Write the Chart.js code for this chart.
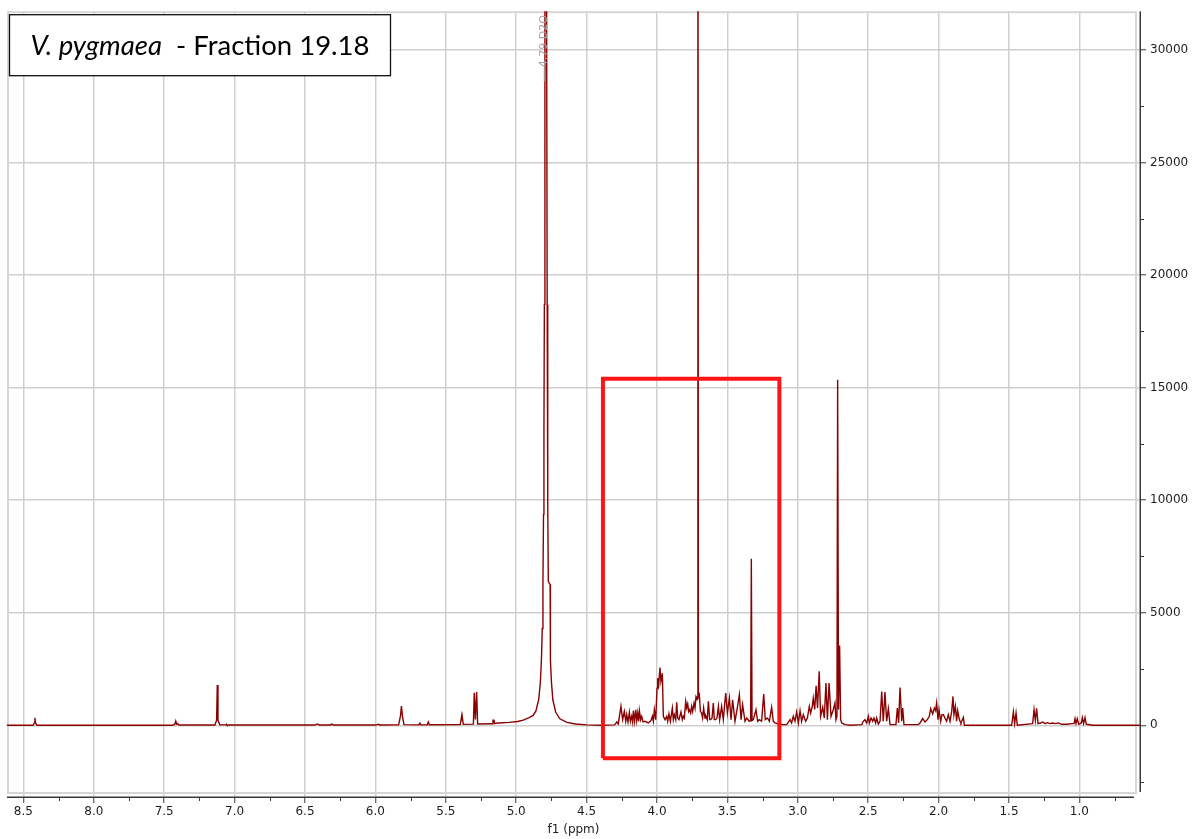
<!DOCTYPE html>
<html>
<head>
<meta charset="utf-8">
<script src="https://cdn.jsdelivr.net/npm/chart.js@4.4.1/dist/chart.umd.min.js"></script>
<style>
  html, body { margin: 0; padding: 0; background: #ffffff; }
  #spectrum { display: block; }
</style>
</head>
<body>
<canvas id="spectrum" width="1194" height="839"></canvas>
<script>
// 1H NMR spectrum, chemical shift (ppm) vs intensity, one array per region.
const aromaticRegion = [
  [8.617, 0], [8.430, 0], [8.422, 110], [8.418, 330], [8.414, 110], [8.405, 0],
  [7.440, 0], [7.425, 50], [7.418, 190], [7.412, 50], [7.404, 80], [7.397, 10],
  [7.140, 10], [7.128, 220], [7.123, 1790], [7.118, 220], [7.105, 20],
  [7.062, 20], [7.058, 50], [7.054, 15],
  [6.430, 10], [6.412, 60], [6.398, 15], [6.320, 15], [6.310, 50], [6.300, 15]
];

const olefinicRegion = [
  [6.000, 10], [5.977, 50], [5.970, 10],
  [5.835, 20], [5.822, 420], [5.815, 850], [5.808, 400], [5.797, 30],
  [5.692, 20], [5.684, 100], [5.677, 20], [5.632, 20], [5.624, 150], [5.617, 25],
  [5.397, 30], [5.388, 380], [5.386, 200], [5.383, 380], [5.376, 40],
  [5.304, 50], [5.298, 1450], [5.290, 260], [5.281, 1480], [5.274, 60],
  [5.170, 70], [5.165, 230], [5.158, 230], [5.153, 80],
  [5.126, 100], [5.050, 130], [4.990, 170]
];

const waterRegion = [
  [4.950, 230], [4.908, 340], [4.880, 440], [4.860, 640], [4.840, 1145],
  [4.828, 1950], [4.820, 3060], [4.815, 4300], [4.810, 6420], [4.806, 9370],
  [4.803, 13000], [4.800, 18700], [4.796, 31700], [4.793, 45000], [4.790, 52000],
  [4.787, 45000], [4.784, 31700], [4.780, 18700], [4.776, 9800], [4.772, 6400],
  [4.759, 6250], [4.757, 2900], [4.750, 1950], [4.740, 1145], [4.720, 590],
  [4.690, 290], [4.640, 130], [4.580, 60], [4.500, 20], [4.400, 5]
];

const carbohydrateRegion = [
  [4.300, 20], [4.286, 148], [4.275, 59], [4.256, 841], [4.244, 251], [4.232, 620],
  [4.222, 177], [4.215, 472], [4.206, 148], [4.196, 575], [4.189, 177], [4.180, 398],
  [4.173, 148], [4.168, 649], [4.159, 177], [4.151, 693], [4.144, 207], [4.137, 546],
  [4.130, 177], [4.125, 649], [4.116, 251], [4.109, 398], [4.099, 148], [4.085, 177],
  [4.062, 103], [4.043, 207], [4.033, 398], [4.026, 177], [4.019, 693], [4.009, 251],
  [4.000, 1652], [3.995, 2095], [3.988, 1800], [3.979, 2567], [3.972, 1947], [3.962, 2316],
  [3.955, 398], [3.943, 251], [3.931, 398], [3.924, 177], [3.915, 502], [3.905, 177],
  [3.891, 767], [3.884, 251], [3.877, 472], [3.867, 251], [3.860, 1018], [3.853, 325],
  [3.844, 251], [3.830, 590], [3.820, 251], [3.813, 398], [3.806, 325], [3.796, 1062],
  [3.789, 767], [3.782, 944], [3.775, 620], [3.770, 693], [3.761, 546], [3.754, 841],
  [3.747, 620], [3.737, 988], [3.730, 767], [3.723, 1283], [3.716, 1210], [3.713, 1250],
  [3.7095, 48000], [3.706, 1250], [3.699, 1357], [3.692, 620], [3.683, 546], [3.676, 325],
  [3.669, 767], [3.659, 325], [3.652, 398], [3.643, 251], [3.635, 1062], [3.626, 251],
  [3.619, 251], [3.609, 325], [3.600, 988], [3.593, 251], [3.583, 251], [3.574, 325],
  [3.564, 841], [3.555, 251], [3.541, 841], [3.529, 251], [3.512, 1431], [3.500, 546],
  [3.486, 1210], [3.474, 251], [3.463, 1136], [3.446, 177], [3.430, 767], [3.415, 1357],
  [3.403, 251], [3.392, 915], [3.375, 177], [3.363, 325], [3.344, 177], [3.335, 207],
  [3.330, 7400], [3.325, 207], [3.316, 251], [3.297, 693], [3.285, 177], [3.273, 251],
  [3.257, 177], [3.242, 1387], [3.231, 251], [3.216, 325], [3.202, 177], [3.186, 797],
  [3.174, 177], [3.162, 103], [3.138, 59]
];

const midfieldRegion = [
  [3.103, 30], [3.079, 30], [3.055, 251], [3.044, 103], [3.032, 398], [3.020, 177],
  [3.008, 590], [2.996, 103], [2.984, 649], [2.973, 177], [2.961, 472], [2.944, 177],
  [2.932, 325], [2.918, 841], [2.909, 546], [2.897, 841], [2.890, 1210], [2.880, 700],
  [2.870, 1750], [2.860, 767], [2.848, 2400], [2.838, 398], [2.823, 797], [2.812, 325],
  [2.800, 1873], [2.790, 251], [2.778, 1873], [2.764, 398], [2.748, 693], [2.736, 988],
  [2.729, 251], [2.722, 400], [2.717, 15350], [2.711, 700], [2.703, 3540], [2.696, 251],
  [2.688, 103], [2.665, 30], [2.629, 0]
];

const aliphaticRegion = [
  [2.546, 30], [2.535, 177], [2.523, 251], [2.511, 103], [2.499, 398], [2.492, 103],
  [2.480, 325], [2.468, 177], [2.459, 325], [2.447, 103], [2.440, 325], [2.428, 59],
  [2.416, 177], [2.404, 1505], [2.393, 177], [2.381, 1475], [2.369, 177], [2.357, 738],
  [2.345, 30], [2.303, 30], [2.293, 767], [2.284, 103], [2.274, 1682], [2.262, 177],
  [2.255, 767], [2.246, 30], [2.144, 30], [2.132, 103], [2.113, 295], [2.097, 148],
  [2.080, 251], [2.066, 398], [2.056, 738], [2.042, 502], [2.030, 767], [2.021, 649],
  [2.014, 988], [2.004, 251], [1.997, 693], [1.985, 177], [1.976, 472], [1.966, 472],
  [1.955, 325], [1.943, 177], [1.931, 472], [1.919, 177], [1.907, 620], [1.898, 1283],
  [1.891, 472], [1.881, 841], [1.872, 177], [1.865, 649], [1.855, 325], [1.848, 177],
  [1.841, 103], [1.824, 354], [1.817, 0], [1.801, 0]
];

const methylRegion = [
  [1.481, 0], [1.469, 590], [1.460, 74], [1.450, 546], [1.441, 0],
  [1.332, 74], [1.322, 693], [1.313, 221], [1.304, 752], [1.294, 74],
  [1.275, 103], [1.261, 148], [1.244, 74], [1.228, 118], [1.209, 74], [1.190, 103],
  [1.171, 74], [1.150, 103], [1.126, 44], [1.090, 44], [1.055, 74], [1.038, 74],
  [1.031, 295], [1.024, 74], [1.015, 295], [1.005, 44], [0.986, 103], [0.979, 339],
  [0.970, 74], [0.960, 339], [0.951, 44], [0.901, 0], [0.560, 0]
];

// Highlighted window (ppm range and intensity range)
const boxShiftPpm = [4.384, 3.131];
const boxIntensity = [-1460, 15400];

// Peak annotation
const peakLabelPpm = 4.79;
const peakLabelText = '4.79 D2O';

// Axis ranges and ticks
const xRangePpm = [0.5696, 8.6165];
const yRange = [-3186, 31727];
const xTickPpm = [8.5, 8.0, 7.5, 7.0, 6.5, 6.0, 5.5, 5.0, 4.5, 4.0, 3.5, 3.0, 2.5, 2.0, 1.5, 1.0];
const xMinorTickPpm = [8.25, 7.75, 7.25, 6.75, 6.25, 5.75, 5.25, 4.75, 4.25, 3.75, 3.25, 2.75, 2.25, 1.75, 1.25, 0.75];
const yTickValues = [0, 5000, 10000, 15000, 20000, 25000, 30000];
const yMinorTickValues = [-2500, 2500, 7500, 12500, 17500, 22500, 27500];

const sampleName = 'V. pygmaea';
const sampleSuffix = '  - Fraction 19.18';

const spectrumPoints = [
  ...aromaticRegion, ...olefinicRegion, ...waterRegion, ...carbohydrateRegion,
  ...midfieldRegion, ...aliphaticRegion, ...methylRegion
].map(([x, y]) => ({ x, y }));

const boxPoints = [
  { x: boxShiftPpm[0], y: boxIntensity[0] },
  { x: boxShiftPpm[0], y: boxIntensity[1] },
  { x: boxShiftPpm[1], y: boxIntensity[1] },
  { x: boxShiftPpm[1], y: boxIntensity[0] },
  { x: boxShiftPpm[0], y: boxIntensity[0] }
];

const AXIS_COLOR = '#3a3a3a';
const TICK_FONT = { family: 'DejaVu Sans', size: 12 };

const decorations = {
  id: 'decorations',
  beforeDatasetsDraw(chart) {
    const { ctx, chartArea: a } = chart;
    ctx.save();
    ctx.strokeStyle = '#d6d6d6';
    ctx.lineWidth = 2;
    ctx.strokeRect(a.left + 1, a.top + 1, (a.right - 4) - (a.left + 1), (a.bottom - 4) - (a.top + 1));
    ctx.restore();
  },
  afterDraw(chart) {
    const { ctx, chartArea: a, scales: { x, y } } = chart;
    ctx.save();

    // axis lines
    ctx.strokeStyle = AXIS_COLOR;
    ctx.lineWidth = 1.5;
    ctx.beginPath();
    ctx.moveTo(a.left, a.bottom + 0.25);
    ctx.lineTo(a.right - 6, a.bottom + 0.25);
    ctx.moveTo(a.right + 0.25, a.top);
    ctx.lineTo(a.right + 0.25, a.bottom - 5);
    ctx.stroke();

    // minor ticks
    ctx.lineWidth = 1;
    ctx.beginPath();
    xMinorTickPpm.forEach(v => {
      const px = Math.round(x.getPixelForValue(v)) + 0.5;
      ctx.moveTo(px, a.bottom);
      ctx.lineTo(px, a.bottom + 4);
    });
    yMinorTickValues.forEach(v => {
      const py = Math.round(y.getPixelForValue(v)) + 0.5;
      ctx.moveTo(a.right, py);
      ctx.lineTo(a.right + 4, py);
    });
    ctx.stroke();

    // peak annotation (rotated label with a short leader)
    const lx = x.getPixelForValue(peakLabelPpm);
    ctx.fillStyle = '#a0a0a0';
    ctx.strokeStyle = '#a0a0a0';
    ctx.font = '11px "DejaVu Sans"';
    const tw = ctx.measureText(peakLabelText).width;
    const textBottom = a.top + 4 + tw;
    ctx.save();
    ctx.translate(lx - 2, textBottom);
    ctx.rotate(-Math.PI / 2);
    ctx.textBaseline = 'middle';
    ctx.textAlign = 'left';
    ctx.fillText(peakLabelText, 0, 0);
    ctx.restore();
    ctx.lineWidth = 1;
    ctx.beginPath();
    ctx.moveTo(lx - 1.5, textBottom);
    ctx.lineTo(lx - 1.5, textBottom + 14);
    ctx.stroke();

    // sample title box
    const bx = a.left + 2.5, by = a.top + 3.5, bw = 381, bh = 61;
    ctx.fillStyle = '#ffffff';
    ctx.fillRect(bx, by, bw, bh);
    ctx.strokeStyle = '#111111';
    ctx.lineWidth = 1.3;
    ctx.strokeRect(bx, by, bw, bh);
    ctx.fillStyle = '#000000';
    ctx.textBaseline = 'alphabetic';
    ctx.textAlign = 'left';
    ctx.font = 'italic 27.5px Lato';
    const tx = bx + 21, ty = by + 40.5;
    ctx.fillText(sampleName, tx, ty);
    const w1 = ctx.measureText(sampleName).width;
    ctx.font = '27.5px Lato';
    ctx.fillText(sampleSuffix, tx + w1, ty);

    ctx.restore();
  }
};

new Chart(document.getElementById('spectrum'), {
  type: 'line',
  data: {
    datasets: [
      {
        data: boxPoints,
        borderColor: '#ff1414',
        borderWidth: 4,
        pointRadius: 0,
        fill: false,
        tension: 0,
        borderJoinStyle: 'miter',
        order: 1
      },
      {
        data: spectrumPoints,
        borderColor: '#8b0000',
        borderWidth: 1.4,
        pointRadius: 0,
        fill: false,
        tension: 0,
        order: 2
      }
    ]
  },
  options: {
    responsive: false,
    animation: false,
    events: [],
    layout: { padding: { left: 7, top: 8, right: 0, bottom: 0 } },
    plugins: {
      legend: { display: false },
      tooltip: { enabled: false },
      title: { display: false }
    },
    scales: {
      x: {
        type: 'linear',
        reverse: true,
        min: xRangePpm[0],
        max: xRangePpm[1],
        afterBuildTicks: axis => { axis.ticks = xTickPpm.map(value => ({ value })); },
        afterFit: scale => { scale.height = 42; },
        border: { display: false },
        grid: {
          color: '#cfcfcf',
          lineWidth: 1.5,
          drawTicks: true,
          tickLength: 6,
          tickColor: AXIS_COLOR,
          tickWidth: 1
        },
        ticks: {
          autoSkip: false,
          maxRotation: 0,
          padding: 2,
          color: '#1e1e1e',
          font: TICK_FONT,
          callback: v => Number(v).toFixed(1)
        },
        title: {
          display: true,
          text: 'f1 (ppm)',
          color: '#1e1e1e',
          font: TICK_FONT,
          padding: { top: 0, bottom: 2 }
        }
      },
      y: {
        type: 'linear',
        position: 'right',
        min: yRange[0],
        max: yRange[1],
        afterBuildTicks: axis => { axis.ticks = yTickValues.map(value => ({ value })); },
        afterFit: scale => { scale.width = 54; },
        border: { display: false },
        grid: {
          color: '#cfcfcf',
          lineWidth: 1.5,
          drawTicks: true,
          tickLength: 6,
          tickColor: AXIS_COLOR,
          tickWidth: 1
        },
        ticks: {
          padding: 4,
          color: '#1e1e1e',
          font: TICK_FONT,
          callback: v => String(v)
        }
      }
    }
  },
  plugins: [decorations]
});
</script>
</body>
</html>
